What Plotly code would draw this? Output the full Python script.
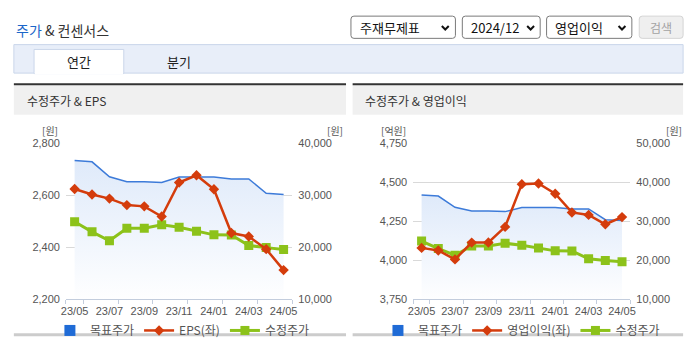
import plotly.graph_objects as go

# ---------------- data ----------------
months = ["23/05", "23/06", "23/07", "23/08", "23/09", "23/10", "23/11",
          "23/12", "24/01", "24/02", "24/03", "24/04", "24/05"]
target_price = [36700, 36450, 33550, 32620, 32620, 32450, 33500,
                33500, 33500, 33150, 33150, 30380, 30150]
adj_price = [24880, 22930, 21220, 23620, 23620, 24300, 23810,
             23060, 22350, 22340, 20300, 19890, 19530]
eps = [2624, 2603, 2587, 2562, 2557, 2518, 2649, 2677, 2623, 2454, 2441, 2392, 2311]
op_profit = [4078, 4061, 4004, 4112, 4113, 4213, 4488, 4492, 4426, 4306, 4290, 4230, 4276]

tick_labels = months[::2]

W, H = 695, 349
def px(x):
    return x / W
def py(y):
    return 1 - y / H

KR = "Noto Sans CJK KR, Noto Sans, sans-serif"
NUM = "Liberation Sans Narrow, Liberation Sans, Arial, sans-serif"

BLUE = "#3d7bd9"
BLUE_SQ = "#1f6bd6"
RED = "#d43c0c"
GREEN = "#8cc21a"

fig = go.Figure()

def add_chart(xa, ya_price, ya_left, left_vals, left_name, legend_name, price_range):
    # target price area (price axis = base axis, drawn first)
    fig.add_trace(go.Scatter(
        x=months, y=target_price, xaxis=xa, yaxis=ya_price, mode="lines",
        line=dict(color=BLUE, width=1.5), fill="tozeroy",
        fillgradient=dict(type="vertical",
                          colorscale=[[0, "rgba(255,255,255,1)"], [1, "#dfeafa"]],
                          start=price_range[0], stop=max(target_price)),
        showlegend=False, hoverinfo="skip", legend=legend_name))
    # legend item for target price (blue square)
    fig.add_trace(go.Scatter(
        x=[None], y=[None], xaxis=xa, yaxis=ya_price, mode="markers",
        marker=dict(symbol="square", size=11, color=BLUE_SQ),
        name="목표주가", legend=legend_name))
    fig.add_trace(go.Scatter(
        x=months, y=left_vals, xaxis=xa, yaxis=ya_left, mode="lines+markers",
        line=dict(color=RED, width=2.5),
        marker=dict(symbol="diamond", size=8, color=RED),
        name=left_name, legend=legend_name))
    fig.add_trace(go.Scatter(
        x=months, y=adj_price, xaxis=xa, yaxis=ya_price, mode="lines+markers",
        line=dict(color=GREEN, width=3),
        marker=dict(symbol="square", size=9, color=GREEN),
        name="수정주가", legend=legend_name))

add_chart("x", "y", "y2", eps, "EPS(좌)", "legend", [10000, 40000])
add_chart("x2", "y3", "y4", op_profit, "영업이익(좌)", "legend2", [10000, 50000])

# invisible traces to hold the boundary-tick overlay axes
fig.add_trace(go.Scatter(x=[None], y=[None], xaxis="x3", yaxis="y", showlegend=False))
fig.add_trace(go.Scatter(x=[None], y=[None], xaxis="x4", yaxis="y3", showlegend=False))

ydom = [py(303.3), py(142.3)]
xdom1 = [px(61.8), px(291.5)]
xdom2 = [px(414.2), px(634.5)]

boundaries = [-0.5] + [i + 0.5 for i in range(0, len(months), 2)]

axis_col = "#c3cddd"
grid_col = "#d9d9d9"
tick_font = dict(family=NUM, size=11, color="#555")

def xaxis_main(dom, anchor):
    return dict(domain=dom, anchor=anchor, type="category", range=[-0.5, len(months) - 0.5],
                tickvals=tick_labels, ticktext=tick_labels, showgrid=False,
                showline=True, linecolor=axis_col, linewidth=1, ticks="",
                tickfont=tick_font, zeroline=False, fixedrange=True,
                ticklabelstandoff=2)

def xaxis_ticks(over, anchor):
    return dict(overlaying=over, anchor=anchor, range=[-0.5, len(months) - 0.5],
                tickvals=boundaries, showticklabels=False, ticks="outside",
                ticklen=4, tickcolor=axis_col, showgrid=False, showline=False,
                zeroline=False, side="bottom")

def yaxis_price(dom, anchor, rng, dt):
    return dict(domain=dom, anchor=anchor, side="right", range=rng, dtick=dt,
                tickformat=",", showgrid=True, gridcolor=grid_col, gridwidth=1,
                zeroline=False, showline=False, ticks="", tickfont=tick_font,
                ticklabelstandoff=5)

def yaxis_left(over, anchor, rng, dt):
    return dict(overlaying=over, anchor=anchor, side="left", range=rng, dtick=dt,
                tickformat=",", showgrid=False, zeroline=False, showline=False,
                ticks="", tickfont=tick_font, ticklabelstandoff=5)

legend_common = dict(orientation="h", xanchor="center", y=py(336), yanchor="middle",
                     font=dict(family=KR, size=12, color="#555"), bgcolor="rgba(0,0,0,0)",
                     itemwidth=30, traceorder="normal", tracegroupgap=0)

fig.update_layout(
    width=W, height=H, margin=dict(l=0, r=0, t=0, b=0),
    paper_bgcolor="white", plot_bgcolor="rgba(0,0,0,0)",
    font=dict(family=KR, color="#333"),
    xaxis=xaxis_main(xdom1, "y"),
    xaxis2=xaxis_main(xdom2, "y3"),
    xaxis3=xaxis_ticks("x", "y"),
    xaxis4=xaxis_ticks("x2", "y3"),
    yaxis=yaxis_price(ydom, "x", [10000, 40000], 10000),
    yaxis2=yaxis_left("y", "x", [2200, 2800], 200),
    yaxis3=yaxis_price(ydom, "x2", [10000, 50000], 10000),
    yaxis4=yaxis_left("y3", "x2", [3750, 4750], 250),
    legend=dict(x=px(180), **legend_common),
    legend2=dict(x=px(524), **legend_common),
    hovermode=False,
)

shapes = []
annotations = []

def rect(x0, y0, x1, y1, fill=None, line=None, lw=1, layer="below"):
    shapes.append(dict(type="rect", xref="paper", yref="paper",
                       x0=px(x0), x1=px(x1), y0=py(y1), y1=py(y0),
                       fillcolor=fill if fill else "rgba(0,0,0,0)",
                       line=dict(color=line if line else "rgba(0,0,0,0)", width=lw if line else 0),
                       layer=layer))

def rrect(x0, y0, x1, y1, r, fill, line, lw=1):
    pts = (f"M {px(x0 + r)},{py(y0)} L {px(x1 - r)},{py(y0)} "
           f"Q {px(x1)},{py(y0)} {px(x1)},{py(y0 + r)} L {px(x1)},{py(y1 - r)} "
           f"Q {px(x1)},{py(y1)} {px(x1 - r)},{py(y1)} L {px(x0 + r)},{py(y1)} "
           f"Q {px(x0)},{py(y1)} {px(x0)},{py(y1 - r)} L {px(x0)},{py(y0 + r)} "
           f"Q {px(x0)},{py(y0)} {px(x0 + r)},{py(y0)} Z")
    shapes.append(dict(type="path", xref="paper", yref="paper", path=pts,
                       fillcolor=fill, line=dict(color=line, width=lw), layer="above"))

def hline(x0, x1, y, color, w):
    shapes.append(dict(type="line", xref="paper", yref="paper",
                       x0=px(x0), x1=px(x1), y0=py(y), y1=py(y),
                       line=dict(color=color, width=w), layer="below"))

def chevron(cx, cy):
    path = (f"M {px(cx - 3.5)},{py(cy - 1.8)} L {px(cx)},{py(cy + 1.8)} "
            f"L {px(cx + 3.5)},{py(cy - 1.8)}")
    shapes.append(dict(type="path", xref="paper", yref="paper", path=path,
                       line=dict(color="#111", width=2), layer="above"))

def text(x, y, s, size=12, color="#333", anchor="left", family=KR):
    annotations.append(dict(xref="paper", yref="paper", x=px(x), y=py(y), text=s,
                            showarrow=False, xanchor=anchor, yanchor="middle",
                            font=dict(family=family, size=size, color=color)))

# title
text(9.5, 25, "<span style='color:#1b66c9'>주가</span> & 컨센서스", size=14, color="#333")

# dropdowns
for (x0, x1, label, chev) in [(351, 457, "주재무제표", 446.7),
                              (464, 543, "2024/12", 533.3),
                              (549.5, 636, "영업이익", 626)]:
    rrect(x0, 10.5, x1, 33.5, 3, "white", "#7a7a7a", 1)
    text(x0 + 7, 22.5, label, size=13, color="#111")
    chevron(chev, 22.5)
rrect(643.5, 10.5, 688, 33.5, 3, "#efefef", "#d4d4d4", 1)
text(665.8, 22.5, "검색", size=12, color="#a3a3a3", anchor="center")

# tab bar
rect(9, 40, 688, 69.5, fill="#e8eef9", line="#cad6ea", lw=1)
rect(29.5, 45, 120.5, 70, fill="white", line="#cad6ea", lw=1)
rect(30.2, 68.5, 119.8, 70.5, fill="white")
text(75, 57.5, "연간", size=13, color="#222", anchor="center")
text(176.5, 57.5, "분기", size=13, color="#222", anchor="center")

# panels
for (x0, x1, title) in [(9, 346, "수정주가 & EPS"), (352.7, 688, "수정주가 & 영업이익")]:
    rect(x0, 82, x1, 112.5, fill="#f0f0f0")
    hline(x0, x1, 81, "#333333", 2)
    hline(x0, x1, 340.5, "#cccccc", 3)
    text(x0 + 11, 98, title, size=12, color="#333")

# axis unit labels
unit_font = 10
text(46, 128.5, "[원]", size=unit_font, color="#555", anchor="center")
text(335, 128.5, "[원]", size=unit_font, color="#555", anchor="center")
text(394.5, 128.5, "[억원]", size=unit_font, color="#555", anchor="center")
text(679, 128.5, "[원]", size=unit_font, color="#555", anchor="center")

fig.update_layout(shapes=shapes, annotations=annotations)

fig.write_html("out.html", config={"displayModeBar": False})
